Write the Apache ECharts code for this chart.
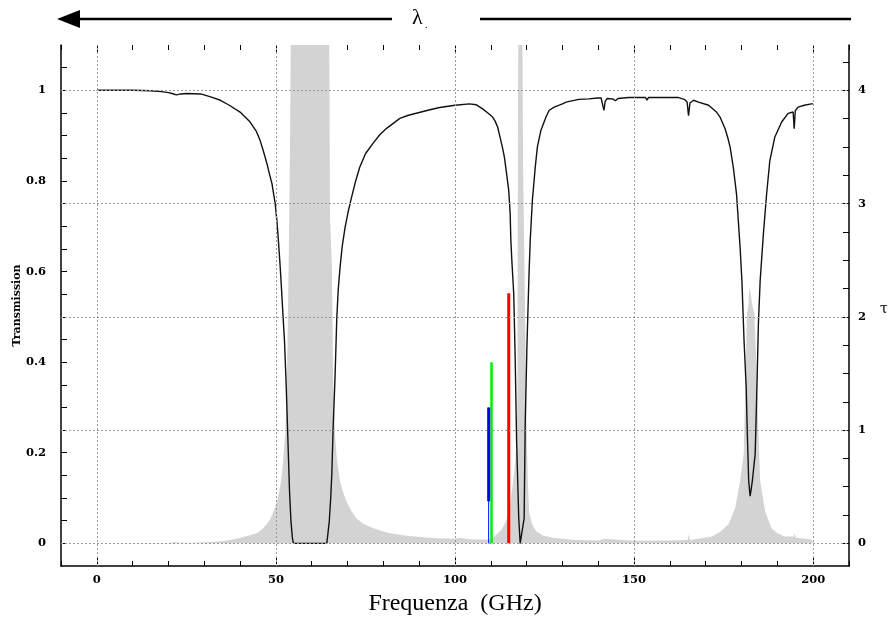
<!DOCTYPE html>
<html>
<head>
<meta charset="utf-8">
<script src="https://cdn.jsdelivr.net/npm/echarts@6/dist/echarts.min.js"></script>
<style>html,body{margin:0;padding:0;background:#fff;}#c{width:896px;height:635px;}</style>
</head>
<body>
<div id="c"></div>
<script>
// Transmission curve (left axis): [GHz, transmission]
const transmissionCurve = [
 [0,1.0],[5,1.0],[10,1.0],[15,0.999],[18,0.997],[20,0.995],[21,0.993],[22.2,0.99],[23.5,0.992],[25,0.993],
 [29,0.992],[32,0.985],[34.5,0.978],[37,0.967],[40,0.952],[42.8,0.93],[44.5,0.91],[45.6,0.889],[46.5,0.866],
 [47.5,0.838],[48.2,0.815],[48.9,0.794],[49.8,0.75],[50.3,0.71],[50.7,0.668],[51.2,0.61],[51.6,0.557],
 [52.0,0.50],[52.4,0.447],[52.9,0.343],[53.3,0.241],[53.8,0.115],[54.2,0.049],[54.6,0.012],[54.9,0.0],
 [64.2,0.0],[64.5,0.02],[64.9,0.049],[65.3,0.10],[65.6,0.152],[66.0,0.26],[66.5,0.365],[67.0,0.498],
 [67.4,0.56],[67.9,0.608],[68.5,0.655],[69.3,0.697],[70.2,0.733],[71.1,0.763],[72.2,0.798],[73.4,0.83],
 [75.0,0.86],[77.1,0.883],[79,0.902],[80.9,0.916],[84.6,0.938],[87,0.945],[90,0.951],[93,0.957],
 [95.7,0.962],[100,0.967],[104,0.970],[106,0.968],[107.7,0.959],[109,0.951],[110.5,0.941],[111.2,0.932],
 [111.9,0.919],[112.8,0.889],[113.3,0.872],[113.8,0.852],[114.4,0.816],[115.0,0.779],[115.4,0.728],
 [115.6,0.668],[115.9,0.62],[116.4,0.551],[116.8,0.41],[117.2,0.226],[117.8,0.055],[118.2,0.0],[118.7,0.0],
 [119.3,0.055],[119.6,0.263],[120.1,0.44],[120.5,0.55],[120.7,0.602],[121.0,0.668],[121.6,0.757],
 [122.4,0.83],[123.0,0.875],[124.0,0.912],[125.4,0.941],[126.3,0.956],[127.7,0.963],[130,0.970],
 [131,0.974],[134.6,0.98],[137.4,0.981],[139.7,0.983],[140.8,0.983],[141.3,0.965],[141.6,0.956],
 [141.9,0.975],[142.5,0.982],[144,0.981],[144.8,0.977],[145.5,0.982],[148.5,0.984],[153.2,0.984],
 [153.6,0.978],[154,0.984],[162.4,0.984],[164,0.98],[164.8,0.974],[165.2,0.944],[165.6,0.972],
 [166.6,0.978],[168,0.974],[170.8,0.967],[171.7,0.961],[173,0.952],[174,0.941],[175.4,0.915],
 [176.1,0.897],[176.8,0.875],[177.7,0.83],[178.6,0.771],[179.1,0.712],[179.6,0.653],[180.1,0.58],
 [180.7,0.447],[181.3,0.344],[181.6,0.248],[182.0,0.137],[182.4,0.104],[182.7,0.104],[183.0,0.137],
 [183.8,0.197],[184.1,0.285],[184.4,0.38],[184.7,0.484],[185.2,0.58],[186.1,0.683],[187.0,0.771],
 [187.9,0.845],[189.3,0.897],[191.2,0.93],[193.0,0.949],[194.4,0.952],[194.7,0.915],[195.0,0.955],
 [195.8,0.963],[197.5,0.967],[199.5,0.97],[200,0.97]
];

// Opacity (right axis): [GHz, tau]; values above the axis top are clipped
const opacityCurve = [
 [0,0],[20,0.003],[22,0.012],[23,0.006],[27,0.006],[30,0.01],[33,0.015],[35.4,0.02],[38,0.035],
 [40.1,0.05],[42.5,0.07],[44.7,0.09],[46,0.12],[47.5,0.17],[48.5,0.22],[49.3,0.28],[50.3,0.37],
 [51.2,0.5],[51.8,0.65],[52.3,0.85],[52.6,0.96],[53.0,1.3],[53.2,1.7],[53.6,2.54],[53.96,3.6],
 [54.5,6],[64.7,6],[65.1,2.9],[65.6,2.48],[66.0,1.43],[66.5,0.96],[67.0,0.75],[67.9,0.55],
 [68.8,0.45],[69.7,0.37],[71,0.29],[72.5,0.22],[74.5,0.17],[77.1,0.135],[79.5,0.11],[81.8,0.09],
 [86,0.07],[91,0.053],[95,0.045],[100.3,0.04],[101,0.05],[101.5,0.04],[104,0.037],[108.7,0.033],
 [110,0.035],[111.5,0.077],[113,0.12],[114.2,0.19],[115.2,0.3],[116.1,0.52],[116.6,0.65],[117.0,0.81],
 [117.4,1.2],[117.6,3.97],[117.9,6],[118.6,6],[119.0,3.35],[119.5,2.2],[120.0,1.0],[120.3,0.58],
 [120.7,0.28],[121.5,0.17],[122.6,0.11],[124.5,0.07],[127.2,0.05],[133.7,0.03],[140,0.025],
 [141.7,0.04],[142,0.025],[150,0.022],[160,0.025],[165.0,0.03],[165.2,0.08],[165.6,0.03],[168,0.04],
 [171.7,0.06],[174,0.1],[176.4,0.17],[178.2,0.31],[179.6,0.55],[180.6,0.79],[181.1,1.43],
 [181.5,2.03],[181.9,2.1],[182.2,2.26],[182.6,2.2],[183.0,2.1],[183.6,2.03],[184.2,1.52],
 [184.7,0.99],[185.2,0.55],[186.6,0.28],[188.4,0.13],[190,0.09],[192.1,0.06],[194.6,0.06],
 [194.8,0.09],[195.2,0.05],[199.5,0.035],[200,0.035]
];

// Receiver channel markers: frequency (GHz) and height (transmission units)
const markerFreq = [109.4, 110.2, 115.0];
const markerTop = [0.30, 0.40, 0.552];
const blueThickBottom = 0.093;

// Ticks / labels
const xMajor = [0, 50, 100, 150, 200];
const xMinor = [-10,0,10,20,30,40,50,60,70,80,90,100,110,120,130,140,150,160,170,180,190,200,210];
const rightLabels = [0, 1, 2, 3, 4];
const rightTicks = [0,0.25,0.5,0.75,1,1.25,1.5,1.75,2,2.25,2.5,2.75,3,3.25,3.5,3.75,4,4.25];
const vGrid = [0, 50, 100, 150, 200];
const hGrid = [0, 1, 2, 3, 4];

const tickFont = {fontFamily:'DejaVu Serif', fontWeight:'bold', fontSize:11.5, color:'#000'};
const axisLineStyle = {color:'#000', width:1.5};
const dotted = {type:[2,2], color:'#999', width:1};

const chart = echarts.init(document.getElementById('c'), null, {renderer:'canvas'});

function xAx(pos, ticks, len, withLine, withLabel) {
  return {
    type:'value', position:pos, min:-10, max:210, gridIndex:0,
    axisLine:{show:withLine, onZero:false, lineStyle:axisLineStyle},
    axisTick:{show:true, inside:true, length:len, customValues:ticks, lineStyle:{color:'#000', width:1}},
    axisLabel:withLabel ? Object.assign({show:true, customValues:xMajor, margin:8}, tickFont) : {show:false},
    splitLine:{show:false}
  };
}

const xAxes = [
  Object.assign(xAx('bottom', xMajor, 9, true, true), {
    name:'Frequenza  (GHz)', nameLocation:'middle', nameGap:26, nameMoveOverlap:false,
    nameTextStyle:{fontFamily:'Liberation Serif', fontSize:24, color:'#000'}
  }),
  xAx('bottom', xMinor, 5, false, false),
  xAx('top', xMinor, 5, false, false),
  xAx('top', xMajor, 9, false, false)
];

const option = {
  animation:false,
  backgroundColor:'#fff',
  grid:{left:61, right:47, top:45, bottom:69, containLabel:false, outerBoundsMode:'none'},
  xAxis:xAxes,
  yAxis:[
    {
      type:'value', position:'left', min:-0.05, max:1.1, interval:0.05,
      axisLine:{show:true, onZero:false, lineStyle:axisLineStyle},
      axisTick:{show:true, inside:true, length:6, lineStyle:{color:'#000'}},
      axisLabel:Object.assign({margin:15, showMinLabel:false, showMaxLabel:false, formatter:function(v){
        const r = Math.round(v*100)/100;
        if (r < 0) return '';
        if (Math.abs(r*5 - Math.round(r*5)) > 1e-6) return '';
        return r === 0 ? '0' : (r === 1 ? '1' : r.toFixed(1));
      }}, tickFont),
      splitLine:{show:false},
      name:'Transmission', nameLocation:'middle', nameGap:38, nameMoveOverlap:false,
      nameTextStyle:{fontFamily:'DejaVu Serif', fontWeight:'bold', fontSize:11, color:'#000'}
    },
    {
      type:'value', position:'right', min:-0.2, max:4.4,
      axisLine:{show:true, onZero:false, lineStyle:axisLineStyle},
      axisTick:{show:true, inside:true, length:6, customValues:rightTicks, lineStyle:{color:'#000'}},
      axisLabel:Object.assign({margin:9, customValues:rightLabels}, tickFont),
      splitLine:{show:false}
    }
  ],
  series:[
    {
      type:'line', xAxisIndex:0, yAxisIndex:1, data:opacityCurve, symbol:'none', clip:true,
      lineStyle:{width:0, color:'#d3d3d3'}, itemStyle:{color:'#d3d3d3'},
      areaStyle:{color:'#d3d3d3', opacity:1}, z:1, silent:true,
      markLine:{
        silent:true, symbol:['none','none'], label:{show:false}, lineStyle:dotted,
        data: vGrid.map(v => ({xAxis:v})).concat(hGrid.map(v => ({yAxis:v})))
      }
    },
    {
      type:'line', xAxisIndex:0, yAxisIndex:0, data:transmissionCurve, symbol:'none',
      lineStyle:{color:'#111', width:1.4}, z:3, silent:true
    },
    {
      type:'line', xAxisIndex:0, yAxisIndex:0, symbol:'none', silent:true, z:4,
      data:[[markerFreq[0],0],[markerFreq[0],markerTop[0]]], lineStyle:{color:'#0000ff', width:1}
    },
    {
      type:'line', xAxisIndex:0, yAxisIndex:0, symbol:'none', silent:true, z:4,
      data:[[markerFreq[1],0],[markerFreq[1],markerTop[1]]], lineStyle:{color:'#00ee00', width:2.5}
    },
    {
      type:'line', xAxisIndex:0, yAxisIndex:0, symbol:'none', silent:true, z:5,
      data:[[markerFreq[0],blueThickBottom],[markerFreq[0],markerTop[0]]], lineStyle:{color:'#0000ff', width:3}
    },
    {
      type:'line', xAxisIndex:0, yAxisIndex:0, symbol:'none', silent:true, z:4,
      data:[[markerFreq[2],0],[markerFreq[2],markerTop[2]]], lineStyle:{color:'#ff0000', width:3}
    }
  ],
  graphic:[
    {type:'polygon', shape:{points:[[57,19],[80,10],[80,28]]}, style:{fill:'#000'}},
    {type:'line', shape:{x1:78, y1:19, x2:392, y2:19}, style:{stroke:'#000', lineWidth:2.5}},
    {type:'line', shape:{x1:480, y1:19, x2:851, y2:19}, style:{stroke:'#000', lineWidth:2.5}},
    {type:'text', left:412, top:7, style:{text:'λ', font:'22px "Liberation Serif"', fill:'#000'}},
    {type:'text', left:425, top:20, style:{text:'.', font:'10px "Liberation Serif"', fill:'#000'}},
    {type:'text', left:880, top:302, style:{text:'τ', font:'14px "DejaVu Serif"', fill:'#000'}}
  ]
};
chart.setOption(option);
</script>
</body>
</html>
